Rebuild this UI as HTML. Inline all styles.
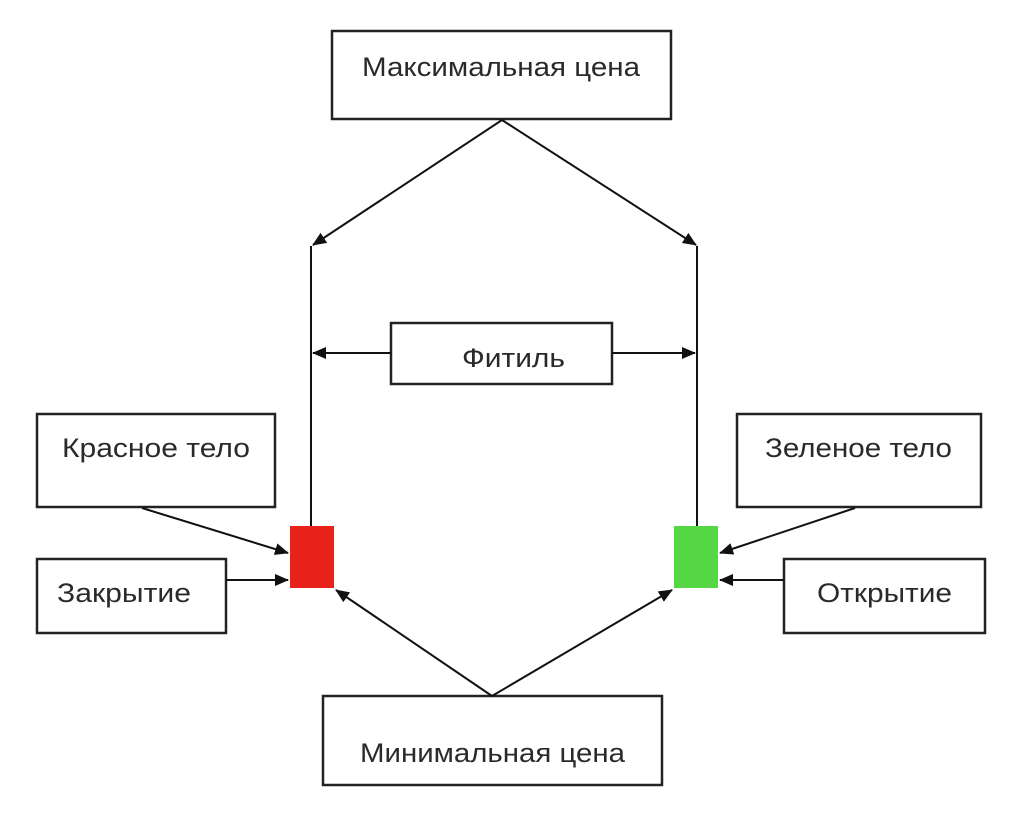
<!DOCTYPE html>
<html><head><meta charset="utf-8"><style>
html,body{margin:0;padding:0;background:#fff;}
svg{display:block;}
text{font-family:"Liberation Sans",sans-serif;font-size:27px;fill:#2a2a2a;}
</style></head><body>
<svg width="1024" height="814" viewBox="0 0 1024 814" xmlns="http://www.w3.org/2000/svg">
<defs>
<marker id="b" markerWidth="14" markerHeight="12" refX="13" refY="6" orient="auto" markerUnits="userSpaceOnUse" viewBox="0 0 14 12"><path d="M0,0 L14,6 L0,12 z" fill="#111"/></marker></defs>
<g fill="#fff" stroke="#222" stroke-width="2.5">
<rect x="332" y="31" width="339" height="88"/>
<rect x="391" y="323" width="221" height="61"/>
<rect x="37" y="414" width="238" height="93"/>
<rect x="37" y="559" width="189" height="74"/>
<rect x="737" y="414" width="244" height="93"/>
<rect x="784" y="559" width="201" height="74"/>
<rect x="323" y="696" width="339" height="89"/>
</g>
<rect x="290" y="526" width="44" height="62" fill="#e8231b"/>
<rect x="674" y="526" width="44" height="62" fill="#55d644"/>
<g stroke="#111" stroke-width="2" fill="none">
<line x1="311" y1="246" x2="311" y2="526"/>
<line x1="697" y1="246" x2="697" y2="526"/>
<line x1="502" y1="120" x2="313" y2="245" marker-end="url(#b)"/>
<line x1="502" y1="120" x2="696" y2="245" marker-end="url(#b)"/>
<line x1="391" y1="353" x2="313" y2="353" marker-end="url(#b)"/>
<line x1="612" y1="353" x2="695" y2="353" marker-end="url(#b)"/>
<line x1="142" y1="508" x2="288" y2="553" marker-end="url(#b)"/>
<line x1="226" y1="580" x2="288" y2="580" marker-end="url(#b)"/>
<line x1="855" y1="508" x2="720" y2="553" marker-end="url(#b)"/>
<line x1="784" y1="580" x2="720" y2="580" marker-end="url(#b)"/>
<line x1="492" y1="696" x2="336" y2="590" marker-end="url(#b)"/>
<line x1="492" y1="696" x2="672" y2="590" marker-end="url(#b)"/>
</g>
<text x="362" y="76" textLength="278" lengthAdjust="spacingAndGlyphs">Максимальная цена</text>
<text x="462" y="367" textLength="103" lengthAdjust="spacingAndGlyphs">Фитиль</text>
<text x="62" y="457" textLength="188" lengthAdjust="spacingAndGlyphs">Красное тело</text>
<text x="57" y="602" textLength="134" lengthAdjust="spacingAndGlyphs">Закрытие</text>
<text x="765" y="457" textLength="187" lengthAdjust="spacingAndGlyphs">Зеленое тело</text>
<text x="817" y="602" textLength="135" lengthAdjust="spacingAndGlyphs">Открытие</text>
<text x="360" y="762" textLength="265" lengthAdjust="spacingAndGlyphs">Минимальная цена</text>
</svg>
</body></html>
